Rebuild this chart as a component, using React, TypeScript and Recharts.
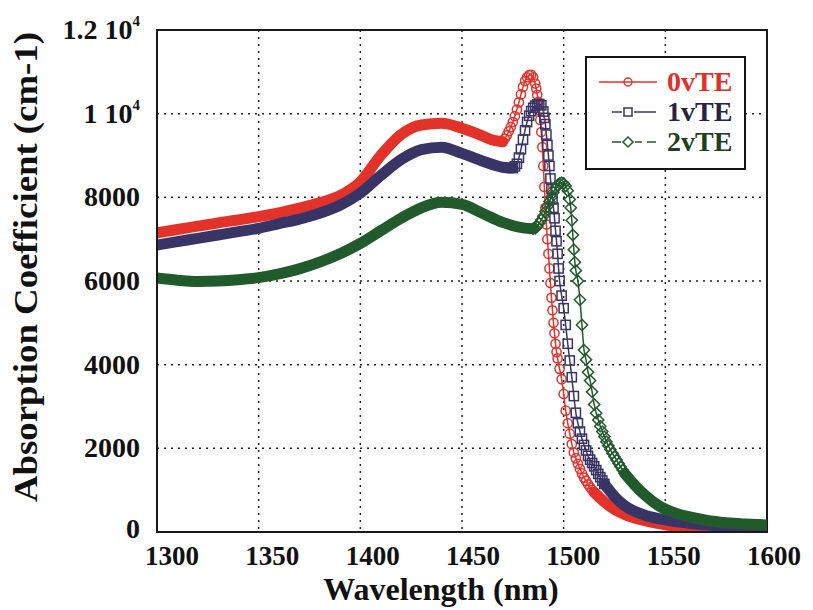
import React from 'react';
import {
  ComposedChart,
  Line,
  XAxis,
  YAxis,
  CartesianGrid,
  ReferenceArea,
  Label,
} from 'recharts';

const FONT = '"Liberation Serif", "Times New Roman", Times, serif';

// Axis ticks
const X_TICKS = [1300, 1350, 1400, 1450, 1500, 1550, 1600];
const Y_TICKS = [0, 2000, 4000, 6000, 8000, 10000, 12000];

// 0vTE: wavelength (nm) and absorption (cm-1)
const wl0 = [
  1300, 1310, 1320, 1330, 1340, 1350, 1360, 1370, 1380, 1390, 1400, 1410, 1420, 1430, 1440, 1450, 1460, 1465, 1470,
  1471, 1472, 1473, 1474, 1475, 1476, 1477, 1478, 1479, 1480, 1481, 1482, 1483, 1484, 1485, 1486,
  1486.5, 1487, 1487.5, 1488, 1488.5, 1489, 1489.5, 1490, 1490.5, 1491, 1491.5, 1492, 1492.5, 1493, 1493.5,
  1494, 1494.5, 1495, 1495.5, 1496, 1496.5, 1497, 1498, 1499, 1500, 1501, 1502, 1503, 1504, 1505,
  1506, 1507, 1508, 1509, 1510, 1511, 1512, 1513, 1514, 1515,
  1520, 1525, 1530, 1540, 1550, 1560, 1570, 1580, 1590, 1600,
];
const te0 = [
  7150, 7230, 7310, 7390, 7460, 7540, 7630, 7740, 7870, 8040, 8370, 9000, 9500, 9730, 9770, 9650, 9470, 9370, 9330,
  9400, 9480, 9580, 9680, 9800, 9940, 10100, 10270, 10460, 10640, 10780, 10870, 10920, 10930, 10870, 10720,
  10600, 10450, 10280, 10080, 9850, 9560, 9200, 8750, 8250, 7750, 7350, 7000, 6650, 6300, 5950,
  5600, 5300, 5000, 4750, 4500, 4300, 4150, 3900, 3650, 3300, 2900, 2600, 2350, 2100, 1900,
  1760, 1630, 1510, 1400, 1300, 1220, 1140, 1070, 1010, 950,
  720, 540, 420, 270, 170, 120, 90, 70, 60, 50,
];
const span0 = [1470, 1515];

// 1vTE
const wl1 = [
  1300, 1310, 1320, 1330, 1340, 1350, 1360, 1370, 1380, 1390, 1400, 1410, 1420, 1430, 1440, 1450, 1460, 1470, 1475,
  1476, 1477, 1478, 1479, 1480, 1481, 1482, 1483, 1484, 1485, 1486, 1487, 1488, 1489,
  1490, 1490.5, 1491, 1491.5, 1492, 1492.5, 1493, 1493.5, 1494, 1494.5, 1495, 1495.5, 1496, 1496.5, 1497, 1497.5, 1498,
  1499, 1500, 1501, 1502, 1503, 1504, 1505, 1506, 1507, 1508, 1509, 1510, 1511, 1512,
  1513, 1514, 1515, 1516, 1517, 1518, 1519, 1520,
  1525, 1530, 1540, 1550, 1560, 1570, 1580, 1590, 1600,
];
const te1 = [
  6860, 6940, 7020, 7100, 7180, 7260, 7370, 7480, 7620, 7810, 8100, 8520, 8900, 9140, 9200, 9050, 8870, 8720, 8700,
  8740, 8800, 8950, 9150, 9380, 9600, 9800, 9950, 10060, 10140, 10190, 10220, 10230, 10200,
  10050, 9900, 9750, 9500, 9250, 9000, 8750, 8450, 8200, 7950, 7750, 7500, 7200, 6950, 6650, 6300, 6000,
  5650, 5350, 4950, 4500, 4100, 3700, 3250, 2850, 2600, 2400, 2230, 2080, 1950, 1820,
  1730, 1650, 1570, 1480, 1390, 1310, 1230, 1150,
  850, 630, 400, 290, 220, 170, 130, 110, 90,
];
const span1 = [1475, 1520];

// 2vTE
const wl2 = [
  1300, 1310, 1320, 1330, 1340, 1350, 1360, 1370, 1380, 1390, 1400, 1410, 1420, 1430, 1440, 1450, 1460, 1470, 1480, 1485,
  1486, 1487, 1488, 1489, 1490, 1491, 1492, 1493, 1494, 1495, 1496, 1497, 1498, 1499, 1500, 1501, 1502, 1503,
  1503.5, 1504, 1504.5, 1505, 1505.5,
  1506, 1507, 1508, 1509, 1510, 1511, 1512, 1513, 1514, 1515, 1516, 1517, 1518, 1519, 1520, 1521,
  1522, 1523, 1524, 1525, 1526, 1527, 1528, 1529, 1530,
  1535, 1540, 1547, 1555, 1562, 1570, 1580, 1590, 1600,
];
const te2 = [
  6070, 6020, 5990, 6000, 6030, 6080, 6170, 6290, 6450, 6650, 6900, 7200, 7500, 7750, 7880, 7830, 7620, 7400, 7270, 7250,
  7260, 7300, 7380, 7460, 7550, 7660, 7780, 7900, 8010, 8120, 8220, 8290, 8330, 8350, 8330, 8270, 8160, 7950,
  7750, 7450, 7100, 6750, 6450,
  6250, 6000, 5550, 4950, 4350, 4120, 3820, 3620, 3350, 3050, 2840, 2680, 2530, 2400, 2280, 2160,
  2060, 1970, 1880, 1800, 1720, 1640, 1560, 1480, 1400,
  1120, 880, 620, 450, 360, 280, 220, 190, 170,
];
const span2 = [1485, 1530];

type Shape = 'circle' | 'square' | 'diamond';

const SERIES: {
  id: string;
  name: string;
  wl: number[];
  val: number[];
  span: number[];
  color: string;
  text: string;
  shape: Shape;
}[] = [
  { id: 'v0', name: '0vTE', wl: wl0, val: te0, span: span0, color: '#e3322a', text: '#e0302a', shape: 'circle' },
  { id: 'v1', name: '1vTE', wl: wl1, val: te1, span: span1, color: '#383566', text: '#26243f', shape: 'square' },
  { id: 'v2', name: '2vTE', wl: wl2, val: te2, span: span2, color: '#215a2b', text: '#1f3f22', shape: 'diamond' },
];

// smooth parts are drawn as a thick band, the sharp peak as open markers
function buildRows() {
  const rows = new Map<number, Record<string, number>>();
  const put = (x: number, key: string, v: number) => {
    let r = rows.get(x);
    if (!r) {
      r = { x };
      rows.set(x, r);
    }
    r[key] = v;
  };
  SERIES.forEach((s) =>
    s.wl.forEach((w, i) => {
      const v = s.val[i];
      if (w <= s.span[0]) put(w, s.id + 'Head', v);
      if (w >= s.span[0] && w <= s.span[1]) put(w, s.id + 'Mark', v);
      if (w >= s.span[1]) put(w, s.id + 'Tail', v);
    })
  );
  return [...rows.values()].sort((a, b) => a.x - b.x);
}

const rows = buildRows();

function MarkerShape({ shape, cx, cy, color, size = 4.6 }: { shape: Shape; cx: number; cy: number; color: string; size?: number }) {
  if (shape === 'circle') {
    return <circle cx={cx} cy={cy} r={size} fill="none" stroke={color} strokeWidth={1.5} />;
  }
  if (shape === 'square') {
    return (
      <rect x={cx - size} y={cy - size} width={size * 2} height={size * 2} fill="none" stroke={color} strokeWidth={1.5} />
    );
  }
  const d = size + 1;
  return (
    <path
      d={`M${cx},${cy - d}L${cx + d},${cy}L${cx},${cy + d}L${cx - d},${cy}Z`}
      fill="none"
      stroke={color}
      strokeWidth={1.5}
    />
  );
}

const markerDot = (shape: Shape, color: string) => (props: any) => {
  const { cx, cy, value, index } = props;
  if (cx == null || cy == null || value == null || Number.isNaN(cy)) return <g key={`m-${index}`} />;
  return (
    <g key={`m-${index}`}>
      <MarkerShape shape={shape} cx={cx} cy={cy} color={color} />
    </g>
  );
};

// tick labels sit a little right of their ticks, less so towards the right end
const XTick = ({ x, y, payload }: any) => {
  const v = payload.value as number;
  const dx = 15 - ((v - 1300) / 300) * 8;
  return (
    <text x={x} y={y} dx={dx} dy={31} textAnchor="middle" fontFamily={FONT} fontWeight="bold" fontSize={27} fill="#111">
      {v}
    </text>
  );
};

const YTick = ({ x, y, payload }: any) => {
  const v = payload.value as number;
  const big = v >= 10000;
  return (
    <text x={x} y={y} dy={v === 0 ? 6 : 9} textAnchor="end" fontFamily={FONT} fontWeight="bold" fontSize={28} fill="#111">
      {big ? (
        <>
          {`${v / 10000} 10`}
          <tspan dy={-13} fontSize={15}>
            4
          </tspan>
        </>
      ) : (
        v
      )}
    </text>
  );
};

function LegendBox() {
  const rowsY = [26, 56, 86];
  return (
    <svg width={161} height={114} style={{ position: 'absolute', left: 585, top: 56 }}>
      <rect x={1} y={1} width={159} height={112} fill="#fff" stroke="#151515" strokeWidth={2} />
      {SERIES.map((s, i) => {
        const y = rowsY[i];
        return (
          <g key={s.id}>
            {i === 0 && <line x1={14} x2={72} y1={y} y2={y} stroke={s.color} strokeWidth={1.5} />}
            {i === 1 && (
              <>
                <line x1={27} x2={37} y1={y} y2={y} stroke={s.color} strokeWidth={1.5} />
                <line x1={49} x2={71} y1={y} y2={y} stroke={s.color} strokeWidth={1.5} />
              </>
            )}
            {i === 2 && (
              <>
                <line x1={27} x2={36} y1={y} y2={y} stroke={s.color} strokeWidth={1.5} />
                <line x1={50} x2={57} y1={y} y2={y} stroke={s.color} strokeWidth={1.5} />
                <line x1={62} x2={71} y1={y} y2={y} stroke={s.color} strokeWidth={1.5} />
              </>
            )}
            <MarkerShape shape={s.shape} cx={43} cy={y} color={s.color} size={4} />
            <text x={82} y={y + 9} fontFamily={FONT} fontWeight="bold" fontSize={28} fill={s.text}>
              {s.name}
            </text>
          </g>
        );
      })}
    </svg>
  );
}

export default function App() {
  return (
    <div style={{ position: 'absolute', left: 0, top: 0, width: 813, height: 610, background: '#fff' }}>
      <ComposedChart width={813} height={610} data={rows} margin={{ top: 30, right: 46, left: 0, bottom: 0 }}>
        <CartesianGrid stroke="#222" strokeDasharray="2 5" strokeWidth={1.5} />
        <XAxis
          dataKey="x"
          type="number"
          domain={[1300, 1600]}
          ticks={X_TICKS}
          allowDataOverflow
          height={78}
          tickSize={0}
          tickLine={false}
          tick={<XTick />}
          axisLine={{ stroke: '#1a1a1a', strokeWidth: 2 }}
        >
          <Label
            content={() => (
              <text x={441} y={600} textAnchor="middle" fontFamily={FONT} fontWeight="bold" fontSize={32} fill="#111">
                Wavelength (nm)
              </text>
            )}
          />
        </XAxis>
        <YAxis
          type="number"
          domain={[0, 12000]}
          ticks={Y_TICKS}
          allowDataOverflow
          width={157}
          tickSize={0}
          tickMargin={17}
          tickLine={false}
          tick={<YTick />}
          axisLine={{ stroke: '#1a1a1a', strokeWidth: 2 }}
        >
          <Label
            content={() => (
              <text
                x={0}
                y={0}
                transform="translate(37 267) rotate(-90)"
                textAnchor="middle"
                fontFamily={FONT}
                fontWeight="bold"
                fontSize={33}
                textLength={470}
                lengthAdjust="spacingAndGlyphs"
                fill="#111"
              >
                Absorption Coefficient (cm-1)
              </text>
            )}
          />
        </YAxis>
        <ReferenceArea x1={1300} x2={1600} y1={0} y2={12000} fill="none" stroke="#1a1a1a" strokeWidth={2} />
        {SERIES.flatMap((s) => [
          <Line
            key={s.id + 'Head'}
            dataKey={s.id + 'Head'}
            type="monotone"
            stroke={s.color}
            strokeWidth={11}
            strokeLinecap="round"
            dot={false}
            activeDot={false}
            connectNulls
            legendType="none"
            isAnimationActive={false}
          />,
          <Line
            key={s.id + 'Tail'}
            dataKey={s.id + 'Tail'}
            type="monotone"
            stroke={s.color}
            strokeWidth={11}
            strokeLinecap="round"
            dot={false}
            activeDot={false}
            connectNulls
            legendType="none"
            isAnimationActive={false}
          />,
          <Line
            key={s.id + 'Mark'}
            dataKey={s.id + 'Mark'}
            type="monotone"
            stroke={s.color}
            strokeWidth={1.5}
            dot={markerDot(s.shape, s.color)}
            activeDot={false}
            connectNulls
            legendType="none"
            isAnimationActive={false}
          />,
        ])}
      </ComposedChart>
      <LegendBox />
    </div>
  );
}
